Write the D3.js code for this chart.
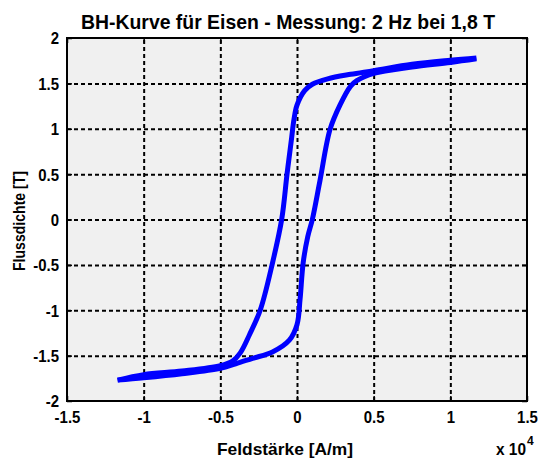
<!DOCTYPE html>
<html>
<head>
<meta charset="utf-8">
<script src="https://cdn.jsdelivr.net/npm/d3@7"></script>
<style>
  body { margin: 0; background: #fff; }
  text { font-family: "Liberation Sans Narrow", "Liberation Sans", Arial, sans-serif; fill: #000; font-weight: bold; }
</style>
</head>
<body>
<script>
// Feldstärke H in A/m, Flussdichte B in T
var downH = [11700, 10000, 7500, 5000, 3500, 2000, 1000, 500, 0, -200, -350, -650, -1000, -1600, -2400, -3100, -3700, -4200, -5000, -7500, -10000, -11700];
var downB = [1.78, 1.755, 1.71, 1.64, 1.60, 1.55, 1.49, 1.42, 1.26, 1.10, 0.90, 0.5, 0.0, -0.48, -1.0, -1.27, -1.47, -1.56, -1.61, -1.67, -1.71, -1.77];
var upH = [-11700, -10000, -7500, -5000, -4000, -2900, -1600, -500, 0, 200, 400, 700, 1000, 1500, 2150, 2800, 3500, 3900, 5000, 7500, 10000, 11700];
var upB = [-1.77, -1.745, -1.70, -1.64, -1.59, -1.53, -1.46, -1.33, -1.16, -0.88, -0.48, -0.19, 0.0, 0.43, 0.99, 1.26, 1.47, 1.53, 1.61, 1.68, 1.73, 1.77];
var xTicks = [-15000, -10000, -5000, 0, 5000, 10000, 15000];
var yTicks = [-2, -1.5, -1, -0.5, 0, 0.5, 1, 1.5, 2];

var w = 543, h = 459;
var mLeft = 67, mRight = 527, mTop = 38, mBottom = 401;

var svg = d3.select("body").append("svg")
    .attr("width", w)
    .attr("height", h);

var xScale = d3.scaleLinear().domain([-15000, 15000]).range([mLeft, mRight]);
var yScale = d3.scaleLinear().domain([-2, 2]).range([mBottom, mTop]);

svg.append("rect")
    .attr("x", mLeft).attr("y", mTop)
    .attr("width", mRight - mLeft).attr("height", mBottom - mTop)
    .attr("fill", "#f0f0f0");

// grid
var xGrid = d3.axisBottom(xScale).tickValues(xTicks.slice(1, -1)).tickSize(-(mBottom - mTop)).tickFormat("");
var yGrid = d3.axisLeft(yScale).tickValues(yTicks.slice(1, -1)).tickSize(-(mRight - mLeft)).tickFormat("");
svg.append("g").attr("class", "grid").attr("transform", "translate(0," + mBottom + ")").call(xGrid);
svg.append("g").attr("class", "grid").attr("transform", "translate(" + mLeft + ",0)").call(yGrid);
svg.selectAll(".grid .domain").remove();
svg.selectAll(".grid line")
    .attr("stroke", "#000")
    .attr("stroke-width", 2)
    .attr("stroke-dasharray", "4,3");

// curves
var line = d3.line()
    .x(function (d) { return xScale(d[0]); })
    .y(function (d) { return yScale(d[1]); })
    .curve(d3.curveCatmullRom);

var down = downH.map(function (v, i) { return [v, downB[i]]; });
var up = upH.map(function (v, i) { return [v, upB[i]]; });

[down, up].forEach(function (pts) {
    svg.append("path")
        .datum(pts)
        .attr("fill", "none")
        .attr("stroke", "#0000ff")
        .attr("stroke-width", 5)
        .attr("d", line);
});

// axes with inward ticks
var xAxis = d3.axisBottom(xScale).tickValues(xTicks).tickSize(-5).tickPadding(10)
    .tickFormat(function (d) { return d / 10000; });
var yAxis = d3.axisLeft(yScale).tickValues(yTicks).tickSize(-5).tickPadding(9)
    .tickFormat(function (d) { return d; });

var gx = svg.append("g").attr("transform", "translate(0," + mBottom + ")").call(xAxis);
var gy = svg.append("g").attr("transform", "translate(" + mLeft + ",0)").call(yAxis);
svg.append("g").attr("transform", "translate(0," + mTop + ")")
    .call(d3.axisTop(xScale).tickValues(xTicks).tickSize(-5).tickFormat(""));
svg.append("g").attr("transform", "translate(" + mRight + ",0)")
    .call(d3.axisRight(yScale).tickValues(yTicks).tickSize(-5).tickFormat(""));

svg.selectAll(".domain").remove();
svg.selectAll(".tick line").filter(function () { return !this.closest(".grid"); })
    .attr("stroke", "#000").attr("stroke-width", 1.5);
gx.selectAll("text").style("font-size", "17px").attr("font-family", null)
    .attr("transform", "scale(0.88,1)");
gy.selectAll("text").style("font-size", "17px").attr("font-family", null)
    .attr("dy", "0.35em").attr("transform", "scale(0.88,1)");

svg.append("rect")
    .attr("x", mLeft).attr("y", mTop)
    .attr("width", mRight - mLeft).attr("height", mBottom - mTop)
    .attr("fill", "none")
    .attr("stroke", "#000")
    .attr("stroke-width", 2);

// labels (condensed via textLength)
svg.append("text")
    .attr("x", 288).attr("y", 29)
    .attr("text-anchor", "middle")
    .attr("textLength", 414).attr("lengthAdjust", "spacingAndGlyphs")
    .style("font-size", "21px")
    .text("BH-Kurve für Eisen - Messung: 2 Hz bei 1,8 T");

svg.append("text")
    .attr("x", 285).attr("y", 455)
    .attr("text-anchor", "middle")
    .attr("textLength", 136).attr("lengthAdjust", "spacingAndGlyphs")
    .style("font-size", "17px")
    .text("Feldstärke [A/m]");

svg.append("text")
    .attr("transform", "translate(25,221) rotate(-90)")
    .attr("text-anchor", "middle")
    .attr("textLength", 100).attr("lengthAdjust", "spacingAndGlyphs")
    .style("font-size", "17px")
    .text("Flussdichte [T]");

var exp = svg.append("text")
    .attr("x", 496).attr("y", 455)
    .style("font-size", "16px");
exp.append("tspan").attr("textLength", 30).attr("lengthAdjust", "spacingAndGlyphs").text("x 10");
exp.append("tspan").attr("dy", -10).attr("dx", 1).style("font-size", "12px").text("4");
</script>
</body>
</html>
